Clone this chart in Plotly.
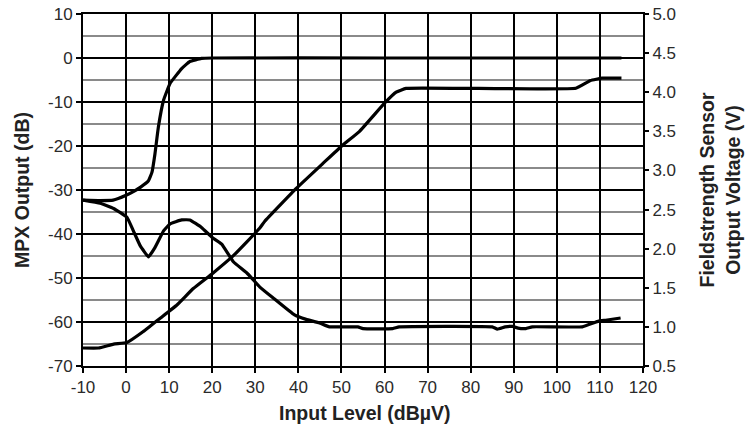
import plotly.graph_objects as go

# MPX output (dB), left axis
mpx_x = [-10, -6, -3, 0, 2, 3.3, 5.2, 6, 6.7, 7.5, 8.7, 10.2, 12.9, 14.8, 17.5, 20, 60, 115]
mpx_y = [-32.3, -32.4, -32.3, -31.2, -30.2, -29.4, -27.9, -26, -21.8, -15.7, -9.6, -5.8, -2.4, -0.8, -0.1, 0, 0, 0]

# Noise curve (dB), left axis
noise_x = [-10, -6, -2.9, 0.2, 1.7, 3.3, 5.2, 6.7, 8.7, 10.2, 12.9, 14.8, 17.5, 20, 22.2, 24.9, 28, 31, 34.1,
           39.1, 41.8, 44.9, 47.2, 53.8, 55, 61.9, 63.4, 85, 86.2, 88, 89.7, 91, 92.8, 94.3, 105.9, 109.7, 111.3, 114.8]
noise_y = [-32.3, -33, -34.2, -36.2, -39.3, -42.7, -45.2, -43.1, -39.3, -37.7, -36.8, -36.8, -38.5, -40.8, -42.3,
           -46.3, -48.8, -52, -54.5, -58.4, -59.4, -60.2, -61.1, -61.1, -61.5, -61.5, -61.1, -61.1, -61.6, -61.1,
           -61, -61.4, -61.5, -61.1, -61.1, -59.8, -59.6, -59.1]

# Fieldstrength sensor output voltage (V), right axis
fs_x = [-10, -6.4, -2.9, 0.2, 4, 7.9, 11.8, 15.6, 20, 24.9, 31, 32.2, 39.5, 45.7, 50, 54.2, 60, 62.7, 65, 104.4,
        107.8, 110.5, 115]
fs_v = [0.73, 0.73, 0.78, 0.8, 0.94, 1.11, 1.28, 1.49, 1.68, 1.91, 2.26, 2.35, 2.77, 3.09, 3.31, 3.5, 3.86, 4.0,
        4.05, 4.05, 4.15, 4.18, 4.18]

x_ticks = list(range(-10, 121, 10))
left_ticks = list(range(-70, 11, 10))
right_ticks = [0.5, 1.0, 1.5, 2.0, 2.5, 3.0, 3.5, 4.0, 4.5, 5.0]

x_title = "Input Level (dBµV)"
left_title = "MPX Output (dB)"
right_title = "Fieldstrength Sensor<br>Output Voltage (V)"

line_style = dict(color="black", width=3.2, shape="spline", smoothing=0.3)
fig = go.Figure()
fig.add_trace(go.Scatter(x=mpx_x, y=mpx_y, mode="lines", line=line_style, showlegend=False))
fig.add_trace(go.Scatter(x=noise_x, y=noise_y, mode="lines", line=line_style, showlegend=False))
fig.add_trace(go.Scatter(x=fs_x, y=fs_v, mode="lines", line=line_style, yaxis="y2", showlegend=False))

FAM = "Liberation Sans, Arial, sans-serif"
font_tick = dict(family=FAM, size=17, color="#2a2a2a")
font_title = dict(family=FAM, size=19.5, color="#222")

fig.update_layout(
    width=745, height=428,
    margin=dict(l=83, r=102, t=14, b=62),
    paper_bgcolor="white", plot_bgcolor="white",
    xaxis=dict(range=[-10, 120], tickvals=x_ticks, ticktext=[f"{v}" for v in x_ticks],
               automargin=False,
               showgrid=True, gridcolor="black", gridwidth=1.6,
               showline=True, linecolor="black", linewidth=2, mirror=True,
               ticks="outside", ticklen=5, tickwidth=1.5, tickcolor="black",
               tickfont=font_tick, zeroline=False),
    yaxis=dict(range=[-70, 10], tickvals=left_ticks, ticktext=[f"{v}" for v in left_ticks],
               automargin=False,
               showgrid=True, gridcolor="black", gridwidth=1.6,
               minor=dict(dtick=5, tick0=0, showgrid=True, gridcolor="#8a8a8a", gridwidth=1.6),
               showline=True, linecolor="black", linewidth=2, mirror=True,
               ticks="outside", ticklen=5, tickwidth=1.5, tickcolor="black",
               tickfont=font_tick, zeroline=False),
    yaxis2=dict(range=[0.5, 5.0], overlaying="y", side="right", automargin=False,
                tickvals=right_ticks, ticktext=[f"{v:.1f}" for v in right_ticks],
                showgrid=False, zeroline=False,
                ticks="outside", ticklen=5, tickwidth=1.5, tickcolor="black",
                tickfont=font_tick),
    annotations=[
        dict(text=f"<b>{x_title}</b>", xref="paper", yref="paper", x=0.503, y=-0.1335,
             xanchor="center", yanchor="middle", showarrow=False, font=font_title),
        dict(text=f"<b>{left_title}</b>", xref="paper", yref="paper", x=-0.109, y=0.5,
             xanchor="center", yanchor="middle", textangle=-90, showarrow=False, font=font_title),
        dict(text=f"<b>{right_title}</b>", xref="paper", yref="paper", x=1.1366, y=0.5,
             xanchor="center", yanchor="middle", textangle=-90, showarrow=False, font=font_title),
    ],
)

fig.write_html("out.html", config={"displayModeBar": False},
               post_script="document.body.style.margin='0';document.body.style.overflow='hidden';")
